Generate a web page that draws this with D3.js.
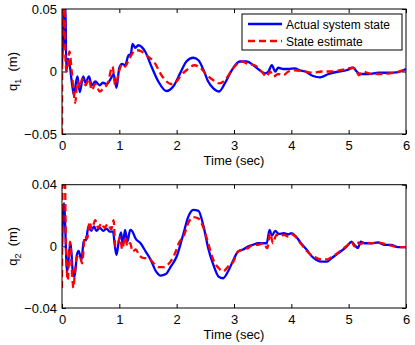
<!DOCTYPE html>
<html>
<head>
<meta charset="utf-8">
<script src="https://cdn.jsdelivr.net/npm/d3@7"></script>
<style>
  body { margin: 0; background: #fff; }
  svg { display: block; font-family: "Liberation Sans", Arial, sans-serif; }
  .tick text { font-size: 13px; fill: #000; }
  .tick line { stroke: #000; }
</style>
</head>
<body>
<div id="chart"></div>
<script>
// time (sec), value (m)
const q1Actual = [[0,0.005],[0.02,0.03],[0.035,0.06],[0.05,0.02],[0.06,0.055],[0.075,0.0],[0.1,0.01],[0.13,0.0065],[0.17,-0.008],[0.21,-0.019],[0.24,-0.01],[0.27,-0.004],[0.31,-0.0165],[0.37,-0.004],[0.41,-0.009],[0.47,-0.004],[0.52,-0.011],[0.58,-0.008],[0.66,-0.011],[0.71,-0.009],[0.78,-0.01],[0.86,-0.005],[0.9,-0.002],[0.95,-0.013],[1.0,0.003],[1.05,0.006],[1.1,0.005],[1.16,0.013],[1.2,0.014],[1.23,0.022],[1.28,0.019],[1.33,0.021],[1.45,0.016],[1.56,0.004],[1.68,-0.008],[1.82,-0.0156],[1.94,-0.012],[2.06,-0.0015],[2.17,0.008],[2.29,0.011],[2.38,0.009],[2.47,0.001],[2.55,-0.008],[2.64,-0.0135],[2.74,-0.016],[2.84,-0.0095],[2.93,-0.0015],[3.02,0.005],[3.1,0.008],[3.22,0.008],[3.34,0.005],[3.45,0.001],[3.54,-0.0015],[3.6,0],[3.66,0.005],[3.72,0],[3.77,0.003],[3.86,0.002],[3.95,0.002],[4.06,0.0025],[4.15,0.001],[4.24,0],[4.38,-0.0036],[4.5,-0.0047],[4.65,-0.002],[4.83,0],[4.96,0.001],[5.08,0.003],[5.14,0],[5.2,-0.002],[5.35,-0.002],[5.52,-0.001],[5.69,-0.001],[5.87,-0.0005],[6.0,0.002]];
const q1Estimate = [[0,-0.06],[0.01,0.07],[0.03,0.03],[0.045,0.06],[0.06,0.01],[0.08,0.0],[0.1,0.005],[0.13,0.016],[0.17,0.0],[0.2,-0.015],[0.23,-0.025],[0.27,-0.008],[0.31,-0.013],[0.35,-0.006],[0.41,-0.011],[0.47,-0.006],[0.52,-0.015],[0.58,-0.01],[0.66,-0.016],[0.71,-0.014],[0.8,-0.009],[0.88,0.004],[0.93,-0.011],[1.0,0.001],[1.05,0.006],[1.1,0.004],[1.16,0.009],[1.22,0.014],[1.31,0.017],[1.39,0.016],[1.5,0.012],[1.6,0.008],[1.75,-0.004],[1.9,-0.01],[2.0,-0.008],[2.06,-0.004],[2.17,0.001],[2.31,0.005],[2.41,0.003],[2.53,-0.003],[2.64,-0.007],[2.74,-0.0095],[2.84,-0.007],[2.96,0.001],[3.05,0.006],[3.14,0.008],[3.24,0.006],[3.36,0.005],[3.48,0],[3.57,-0.004],[3.63,0],[3.69,-0.004],[3.77,-0.002],[3.86,-0.003],[3.95,0],[4.06,0.001],[4.24,0],[4.38,-0.001],[4.53,0],[4.7,0],[4.9,0.0015],[5.08,0.003],[5.14,0],[5.18,-0.003],[5.25,0],[5.4,-0.002],[5.6,-0.002],[5.8,-0.001],[6.0,0.002]];
const q2Actual = [[0,0],[0.035,0.028],[0.09,-0.017],[0.13,-0.002],[0.15,0.002],[0.19,-0.017],[0.22,-0.0196],[0.26,-0.0055],[0.29,-0.003],[0.34,-0.009],[0.38,0.004],[0.42,0.004],[0.46,0.013],[0.51,0.01],[0.56,0.013],[0.6,0.01],[0.66,0.012],[0.72,0.01],[0.78,0.0115],[0.83,0.0095],[0.89,0.0096],[0.92,0.001],[0.95,-0.0055],[0.99,0.003],[1.03,0.009],[1.06,0.001],[1.1,0.0107],[1.14,0.003],[1.19,0.0107],[1.23,0.0096],[1.28,0.0053],[1.37,0.002],[1.46,-0.0034],[1.55,-0.009],[1.64,-0.0163],[1.72,-0.019],[1.81,-0.018],[1.9,-0.013],[2.0,-0.0066],[2.12,0.0085],[2.2,0.019],[2.29,0.0237],[2.38,0.023],[2.47,0.0128],[2.55,-0.0012],[2.64,-0.012],[2.73,-0.0196],[2.81,-0.0207],[2.9,-0.016],[2.99,-0.0088],[3.07,-0.0034],[3.16,-0.002],[3.25,0],[3.33,0.001],[3.42,0.002],[3.51,0.002],[3.57,0.002],[3.62,0.0107],[3.66,0.007],[3.72,0.01],[3.78,0.008],[3.87,0.0085],[3.95,0.0078],[4.0,0.0085],[4.08,0.0064],[4.17,0.002],[4.27,-0.0023],[4.36,-0.0066],[4.44,-0.0088],[4.53,-0.0099],[4.62,-0.0099],[4.7,-0.0077],[4.82,-0.0044],[4.97,0],[5.05,0.003],[5.11,0.0005],[5.16,-0.001],[5.21,0.003],[5.28,0.002],[5.4,0.002],[5.51,0.0025],[5.63,0.001],[5.74,0.001],[5.86,-0.0005],[6.0,-0.0005]];
const q2Estimate = [[0,-0.027],[0.015,0.05],[0.05,0.045],[0.07,0.0],[0.1,-0.022],[0.14,0.003],[0.17,-0.015],[0.2,-0.027],[0.22,-0.019],[0.26,-0.007],[0.31,-0.006],[0.35,-0.011],[0.4,0.0064],[0.44,0.005],[0.48,0.016],[0.52,0.011],[0.58,0.017],[0.63,0.012],[0.69,0.015],[0.74,0.012],[0.8,0.0145],[0.86,0.011],[0.9,0.017],[0.93,0],[0.97,0.001],[1.01,0.006],[1.05,-0.002],[1.1,0.006],[1.14,0],[1.19,0.002],[1.23,-0.0034],[1.29,-0.002],[1.34,-0.0055],[1.43,-0.0077],[1.51,-0.0077],[1.6,-0.011],[1.69,-0.0135],[1.78,-0.0135],[1.87,-0.011],[1.96,-0.0055],[2.05,0.003],[2.12,0.0064],[2.2,0.015],[2.29,0.019],[2.38,0.018],[2.47,0.0118],[2.55,0.002],[2.64,-0.0088],[2.73,-0.014],[2.81,-0.0163],[2.9,-0.013],[2.99,-0.0099],[3.07,-0.0034],[3.16,-0.002],[3.25,-0.001],[3.33,0.001],[3.42,0.001],[3.51,0.002],[3.58,-0.0012],[3.63,0.0085],[3.68,0.002],[3.74,0.0075],[3.81,0.0064],[3.87,0.0075],[3.95,0.0064],[4.0,0.008],[4.08,0.006],[4.17,0.0015],[4.27,-0.003],[4.36,-0.006],[4.44,-0.0075],[4.53,-0.0085],[4.62,-0.0085],[4.7,-0.007],[4.82,-0.004],[4.97,0.0005],[5.05,0.003],[5.1,0.0],[5.14,0.003],[5.2,0.0015],[5.28,0.0025],[5.4,0.002],[5.51,0.0025],[5.63,0.0015],[5.74,0.0005],[5.86,-0.0005],[6.0,-0.0005]];

const xTicks = [0, 1, 2, 3, 4, 5, 6];
const q1Ticks = [-0.05, 0, 0.05];
const q2Ticks = [-0.04, 0, 0.04];
const seriesNames = ['Actual system state', 'State estimate'];

const width = 415, height = 345;
const left = 62, right = 406;

const svg = d3.select('#chart').append('svg')
  .attr('width', width).attr('height', height);

const xScale = d3.scaleLinear().domain([0, 6]).range([left, right]);
const fmt = d3.format('');

function drawPanel(id, top, bottom, yDomain, yTicks, actual, estimate, sub, withLegend) {
  const yScale = d3.scaleLinear().domain(yDomain).range([bottom, top]);
  const g = svg.append('g');

  svg.append('clipPath').attr('id', id)
    .append('rect').attr('x', left).attr('y', top)
    .attr('width', right - left).attr('height', bottom - top);

  // ticks inward on all four sides
  g.append('g').attr('transform', `translate(0,${bottom})`)
    .call(d3.axisBottom(xScale).tickValues(xTicks).tickSize(-4).tickPadding(7).tickFormat(fmt))
    .call(a => a.select('.domain').remove());
  g.append('g').attr('transform', `translate(0,${top})`)
    .call(d3.axisTop(xScale).tickValues(xTicks).tickSize(-4).tickFormat(''))
    .call(a => a.select('.domain').remove());
  g.append('g').attr('transform', `translate(${left},0)`)
    .call(d3.axisLeft(yScale).tickValues(yTicks).tickSize(-4).tickPadding(5).tickFormat(d => d === 0 ? '0' : d3.format('.2f')(d)))
    .call(a => a.select('.domain').remove());
  g.append('g').attr('transform', `translate(${right},0)`)
    .call(d3.axisRight(yScale).tickValues(yTicks).tickSize(-4).tickFormat(''))
    .call(a => a.select('.domain').remove());
  g.selectAll('.tick text').attr('font-family', null);

  const line = d3.line()
    .x(d => xScale(d[0]))
    .y(d => yScale(d[1]))
    .curve(d3.curveMonotoneX);

  const plot = g.append('g').attr('clip-path', `url(#${id})`);
  plot.append('path').datum(actual)
    .attr('fill', 'none').attr('stroke', '#0000ff').attr('stroke-width', 2.3)
    .attr('d', line);
  plot.append('path').datum(estimate)
    .attr('fill', 'none').attr('stroke', '#ff0000').attr('stroke-width', 2.3)
    .attr('stroke-dasharray', '7,4')
    .attr('d', line);

  g.append('rect').attr('x', left).attr('y', top)
    .attr('width', right - left).attr('height', bottom - top)
    .attr('fill', 'none').attr('stroke', '#000').attr('stroke-width', 1);

  g.append('text')
    .attr('x', (left + right) / 2).attr('y', bottom + 31)
    .attr('text-anchor', 'middle').attr('font-size', 13)
    .text('Time (sec)');

  const yl = g.append('text')
    .attr('transform', `translate(17,${(top + bottom) / 2}) rotate(-90)`)
    .attr('text-anchor', 'middle').attr('font-size', 13);
  yl.append('tspan').text('q');
  yl.append('tspan').attr('font-size', 9).attr('dy', 4).text(sub);
  yl.append('tspan').attr('dy', -4).text('\u00a0\u00a0(m)');

  if (withLegend) {
    const lg = g.append('g');
    lg.append('rect').attr('x', 242).attr('y', 14).attr('width', 160).attr('height', 36)
      .attr('fill', '#fff').attr('stroke', '#000').attr('stroke-width', 1);
    const colors = ['#0000ff', '#ff0000'];
    seriesNames.forEach((name, i) => {
      const yy = 24 + i * 17;
      lg.append('line').attr('x1', 248).attr('x2', 282).attr('y1', yy).attr('y2', yy)
        .attr('stroke', colors[i]).attr('stroke-width', 2.3)
        .attr('stroke-dasharray', i === 1 ? '7,4' : null);
      lg.append('text').attr('x', 286).attr('y', yy + 4.5).attr('font-size', 12).text(name);
    });
  }
}

drawPanel('clipTop', 9, 134, [-0.05, 0.05], q1Ticks, q1Actual, q1Estimate, '1', true);
drawPanel('clipBottom', 184.7, 308, [-0.04, 0.04], q2Ticks, q2Actual, q2Estimate, '2', false);
</script>
</body>
</html>
